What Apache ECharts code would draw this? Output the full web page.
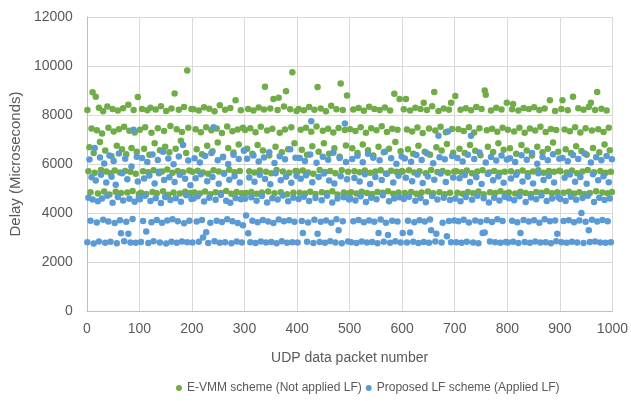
<!DOCTYPE html>
<html>
<head>
<meta charset="utf-8">
<script src="https://cdn.jsdelivr.net/npm/echarts@6/dist/echarts.min.js"></script>
<style>
html,body{margin:0;padding:0;background:#fff;}
#chart{width:631px;height:401px;}
</style>
</head>
<body>
<div id="chart"></div>
<script>
// Packet numbering of the plotted samples
const firstPacket = 1;
const packetStep = 2;

// Series names
const seriesNames = ['E-VMM scheme (Not applied LF)', 'Proposed LF scheme (Applied LF)'];

// Axis tick values
const xTicks = [0, 100, 200, 300, 400, 500, 600, 700, 800, 900, 1000];
const yTicks = [0, 2000, 4000, 6000, 8000, 10000, 12000];

// E-VMM scheme delay (microseconds), packets 1,3,5,...,999
const evmmDelay = [
8200,5700,6680,4850,7450,8930,6450,5640,8750,7380,4800,8300,6900,5760,7250,8150,4880,6550,5690,8350,7480,4760,5620,6320,8240,7330,5730,4870,6750,8180,7420,5650,4820,6600,8280,7520,5710,6400,4840,8420,7360,5680,6650,4900,8200,7290,5600,6500,8730,4780,
7400,4830,8250,5700,6620,7500,4780,8190,5660,6380,8300,7280,4860,5740,6850,8220,4810,7460,5620,6560,8360,5690,4890,7350,6700,8160,5780,4750,6480,7550,8270,5640,4840,8880,6620,7420,5710,8210,4800,6950,7310,5660,8330,4870,6450,9820,7480,5730,4820,8240,
5680,8230,4840,7420,6600,5720,8180,4800,7300,6400,5650,8320,4880,7500,6750,5600,8260,4770,7380,6520,5740,8150,4850,7450,6880,5690,8400,4820,7270,6300,5630,8210,4900,7530,6650,5770,8290,4790,7340,6470,5660,8600,4860,7410,6800,5710,8190,4810,7480,6550,
7390,4820,6620,8240,5700,7460,4860,6420,8180,5650,7300,4790,6780,8310,5730,7520,4840,6550,8220,9150,5680,7370,4880,6350,8270,5620,7440,8650,4810,6700,5760,8200,8700,7280,4850,6480,5690,8350,7410,8970,4770,6600,5640,8230,7500,9750,4830,6850,5710,8160,
5690,8250,4830,7400,6580,5730,8190,4800,7480,6380,5650,8330,4870,7320,6720,5600,8210,4780,7530,9140,6500,5760,8270,4850,7360,6850,5670,8150,4820,7440,6420,5710,8380,4890,7290,6640,5620,8230,4760,7470,6300,9290,5740,8200,4840,7390,6760,8800,5680,4810,
7420,4850,6640,8220,5700,7350,4800,6450,8290,5660,7500,4870,6800,8170,5730,7280,4820,6560,8340,5640,7460,4780,6350,8240,5690,7380,4860,6700,8200,5750,7540,4830,6480,8310,5610,7310,4890,6620,8180,5720,7440,4790,8870,6900,5680,7400,4840,8650,6520,5700,
5690,8230,4820,8650,7410,6600,5740,8180,4860,7330,6420,5650,8300,4790,7490,6750,5700,8250,4840,7270,8500,6500,5620,8200,4880,7450,6380,5760,8360,4810,8940,7370,6680,5670,8160,4850,7520,6550,5710,8270,4770,7300,6820,5640,8210,4830,8500,7430,6460,5690,
8780,5700,4830,7420,6620,8210,5660,4790,7350,6450,8280,5730,4860,7500,6780,8190,5620,4810,7290,6540,8330,5690,4880,7460,6360,8240,5750,4770,9000,8830,7380,6700,5650,4850,8180,7440,6490,5710,4820,8300,7320,6850,5640,4890,8220,7480,6580,5680,4800,8500,
7400,4840,6640,5700,8230,8450,7330,4800,6420,5660,8180,7480,4870,6780,5730,8290,7280,4820,6550,5620,8240,7450,4780,6350,5690,8320,7370,4860,6700,5750,8200,7520,4830,6480,5640,8270,7310,4890,6620,5710,8600,7430,4810,6880,5680,8160,7390,4850,6500,5720,
5700,8240,8600,4830,7410,6600,5650,8190,4870,7340,6450,5730,8740,4800,7500,6720,5620,8280,4850,7290,6530,5690,8210,4780,7460,6380,5760,8330,4820,8500,7370,6650,5660,8200,4890,8940,7420,6480,5710,8260,4840,7310,6800,5640,8180,4810,7480,6560,5680,4860
];

// Proposed LF scheme delay (microseconds), packets 1,3,5,...,999
const lfDelay = [
2810,4620,6180,3680,5460,4550,2760,6650,5330,3610,4480,2840,6270,5560,4590,3720,6020,2790,5240,4700,3650,6350,2830,5480,4420,6120,3590,5150,2770,4650,6430,3700,3170,5620,4510,2850,6210,3640,5380,3150,4580,2800,5900,3760,7400,4460,2790,6300,5290,4630,
4560,2820,6240,3670,5410,4700,3250,6080,2780,5530,4490,3620,6390,2850,5200,4600,3710,6160,5680,2800,4410,3600,6500,5350,4650,2760,3690,6220,5460,4530,2830,3740,5990,5270,4600,2790,3660,6310,5560,4460,2840,6780,3580,5400,4720,2810,6140,3680,5130,4570,
2800,4590,6230,5420,3650,4680,2830,6060,5580,3710,3000,4470,6330,3210,5300,2780,4620,3600,6450,5470,7500,2850,4540,3680,6150,5190,2790,4730,3630,6280,5600,2810,4500,3740,6000,5360,4420,2770,3660,6380,5500,4610,2840,3590,6200,5250,4560,2800,3500,6550,
4580,3900,6210,3170,5450,2810,4640,3680,6350,5280,2780,4500,3620,6100,5560,2840,4690,3710,6270,5390,2800,4430,3650,6480,5170,2820,4600,3590,6040,5620,2770,4550,3730,6320,5340,2850,4710,3660,6190,5480,2790,4480,3700,6600,5230,2810,4620,3640,6260,5510,
2800,4570,6240,5400,3670,3180,4660,6120,5540,2830,3610,4490,6390,7750,5260,2780,3720,4610,6050,3150,5470,2820,3640,4520,6300,5610,2790,3690,4700,6170,5330,2850,3600,4430,6460,5200,2800,3750,4590,3300,6250,5500,2770,3660,4640,7650,6080,5380,2840,4550,
4600,2810,6200,3660,5430,4510,2780,6340,3710,5290,4680,2840,6070,3620,5580,4450,2800,6420,3690,5180,4620,2820,6260,3640,5470,4560,2770,3180,6150,3730,5350,4720,2830,6500,3600,5600,3100,4480,2790,6230,3680,5250,4590,2850,6010,3650,5520,4640,2800,6310,
3180,4570,6220,5440,2800,3680,4660,3200,6090,5300,2830,3620,4500,6370,5570,2780,3700,4610,6160,5220,2820,3650,4440,6440,5490,2790,3730,3300,4690,6030,5360,2840,3150,4550,7150,6280,5610,2800,3600,4620,6190,5270,3050,7330,3670,4530,2810,6330,5450,3690,
4590,2810,6250,3660,5420,4480,2790,6100,3720,5550,4650,2830,6380,3610,5270,7150,4540,2800,6200,3690,5460,4700,2770,6470,3640,5180,3180,4600,3200,6060,3700,5590,4430,2840,6290,3630,5340,4620,2810,6140,3750,5490,4510,2790,6350,3670,5230,4660,2820,6180,
2800,4600,6230,5410,3680,2830,4520,6080,5560,3620,2780,4680,3180,6360,5290,3710,2820,4450,6170,5480,3650,2790,4630,6450,5200,3700,2840,4560,6010,5620,3600,2800,4710,6290,5350,3740,2810,4490,6150,5510,3660,2770,4590,6400,5250,3690,2850,3150,4640,6210,
4570,2810,6240,3670,5440,4490,2790,6110,3700,5570,4660,2830,6370,3620,5280,4540,2800,6200,3690,5470,4000,4610,2780,6430,3640,5190,4700,3300,2820,6060,3720,5580,4450,2840,6280,3650,5340,4620,2800,6150,3710,5500,4530,2790,6330,3660,5260,4590,2810,6190
];

function toPoints(values) {
  return values.map(function (v, i) { return [firstPacket + packetStep * i, v]; });
}

const textColor = '#595959';
const fontFamily = '"Liberation Sans", Arial, sans-serif';
const plainNumber = function (v) { return String(v); };

const chart = echarts.init(document.getElementById('chart'), null, { renderer: 'canvas' });
chart.setOption({
  animation: false,
  backgroundColor: '#ffffff',
  grid: { left: 84, right: 17, top: 17, bottom: 90, containLabel: false },
  xAxis: {
    type: 'value',
    min: xTicks[0],
    max: xTicks[xTicks.length - 1],
    interval: xTicks[1] - xTicks[0],
    name: 'UDP data packet number',
    nameLocation: 'middle',
    nameGap: 40,
    nameTextStyle: { color: textColor, fontSize: 14, fontFamily: fontFamily },
    axisLine: { show: true, lineStyle: { color: '#bfbfbf', width: 1 } },
    axisTick: { show: false },
    axisLabel: { color: textColor, fontSize: 14, fontFamily: fontFamily, margin: 11, formatter: plainNumber },
    splitLine: { show: true, lineStyle: { color: '#d9d9d9', width: 1 } }
  },
  yAxis: {
    type: 'value',
    min: yTicks[0],
    max: yTicks[yTicks.length - 1],
    interval: yTicks[1] - yTicks[0],
    name: 'Delay (Microseconds)',
    nameLocation: 'middle',
    nameGap: 58,
    nameRotate: 90,
    nameTextStyle: { color: textColor, fontSize: 15, fontFamily: fontFamily },
    axisLine: { show: true, lineStyle: { color: '#bfbfbf', width: 1 } },
    axisTick: { show: false },
    axisLabel: { color: textColor, fontSize: 14, fontFamily: fontFamily, margin: 14, formatter: plainNumber },
    splitLine: { show: true, lineStyle: { color: '#d9d9d9', width: 1 } }
  },
  legend: {
    top: 377,
    left: 171,
    width: 450,
    orient: 'horizontal',
    icon: 'circle',
    itemWidth: 6,
    itemHeight: 6,
    itemGap: 4,
    textStyle: { color: textColor, fontSize: 12, fontFamily: fontFamily },
    data: seriesNames
  },
  series: [
    {
      name: seriesNames[0],
      type: 'scatter',
      symbol: 'circle',
      symbolSize: 6.5,
      itemStyle: { color: '#70ad47', opacity: 1 },
      data: toPoints(evmmDelay)
    },
    {
      name: seriesNames[1],
      type: 'scatter',
      symbol: 'circle',
      symbolSize: 6.5,
      itemStyle: { color: '#5b9bd5', opacity: 1 },
      data: toPoints(lfDelay)
    }
  ]
});
</script>
</body>
</html>
